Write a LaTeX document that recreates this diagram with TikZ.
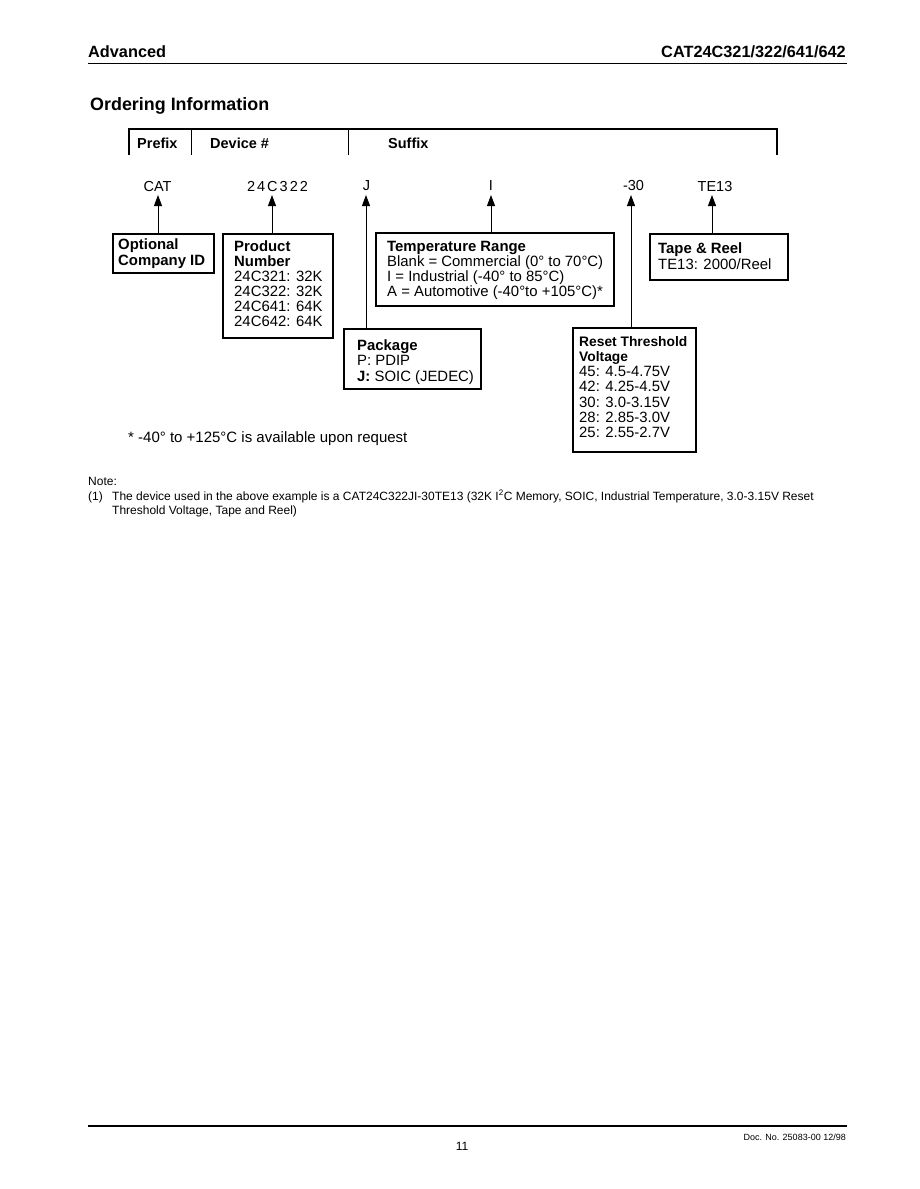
\documentclass[tikz,border=0pt]{standalone}
\usepackage{fontspec}
\setmainfont{Liberation Sans}
\usetikzlibrary{arrows.meta}
\newcommand\fsz[2]{\fontsize{#1}{#2}\selectfont}
\newcommand\boxlines[1]{\begin{tabular}[t]{@{}l@{}}#1\end{tabular}}
\begin{document}
\begin{tikzpicture}[x=1pt,y=-1pt,
  boxframe/.style={draw,line width=1.6pt,rectangle,anchor=north west,inner sep=0pt},
  boxtext/.style={anchor=base west,inner sep=0pt,font=\fsz{14.9}{15}},
  codelbl/.style={anchor=base,inner sep=0pt,font=\fsz{14.5}{15}},
  headlbl/.style={anchor=base west,inner sep=0pt,font=\fsz{14.5}{15}\bfseries},
  uparrow/.style={line width=0.9pt,-{Triangle[length=11pt,width=8pt]}},
  small/.style={anchor=base west,inner sep=0pt,font=\fsz{12}{14}}
]
\useasboundingbox (0,0) rectangle (919,1189);
\fill[white] (0,0) rectangle (919,1189);

% page header
\node[anchor=base west,inner sep=0pt,font=\fsz{16.3}{18}\bfseries] (adv) at (88,57) {Advanced};
\node[anchor=base east,inner sep=0pt,font=\fsz{16.3}{18}\bfseries] (part) at (846,57) {CAT24C321/322/641/642};
\draw[line width=1pt] (88,63.5) -- (847,63.5);

\node[anchor=base west,inner sep=0pt,font=\fsz{17.9}{20}\bfseries] (title) at (90,110.5) {Ordering Information};

% header frame
\draw[line width=1.6pt] (129,155) -- (129,129) -- (777,129) -- (777,155);
\draw[line width=1pt] (191,129) -- (191,155);
\draw[line width=1pt] (348,129) -- (348,155);
\node[headlbl] (hpre) at (137,148) {Prefix};
\node[headlbl] (hdev) at (210,148) {Device \#};
\node[headlbl] (hsuf) at (388,148) {Suffix};

% code labels
\node[codelbl] (lcat) at (157.5,191) {CAT};
\node[codelbl] (ldev) at (277.5,191) {2\kern2pt4\kern2pt C\kern2pt3\kern2pt2\kern2pt2};
\node[codelbl] (lj) at (366.5,190.5) {J};
\node[codelbl] (li) at (491,190.5) {I};
\node[codelbl] (lv) at (633.5,190.5) {-30};
\node[codelbl] (lt) at (715,191.5) {TE13};

\coordinate (acat) at (158,195);
\coordinate (adev) at (272,195);
\coordinate (aj) at (366,195);
\coordinate (ai) at (491,195);
\coordinate (av) at (631,195);
\coordinate (at13) at (712,195);

% boxes
\node[boxframe,minimum width=101pt,minimum height=39pt] (optbox) at (112,233) {};
\node[boxtext,font=\fsz{14.9}{16}\bfseries] (opttxt) at (118,249) {\boxlines{Optional\\Company ID}};

\node[boxframe,minimum width=110pt,minimum height=104pt] (prodbox) at (222,233) {};
\node[boxtext] (prodtxt) at (234,251) {\boxlines{\textbf{Product}\\\textbf{Number}\\24C321: 32K\\24C322: 32K\\24C641: 64K\\24C642: 64K}};

\node[boxframe,minimum width=238pt,minimum height=73pt] (tempbox) at (375,232) {};
\node[boxtext] (temptxt) at (387,251) {\boxlines{\textbf{Temperature Range}\\Blank = Commercial (0° to 70°C)\\I = Industrial (-40° to 85°C)\\A = Automotive (-40°to +105°C)*}};

\node[boxframe,minimum width=138pt,minimum height=46pt] (tapebox) at (649,233) {};
\node[boxtext,font=\fsz{14.9}{16}] (tapetxt) at (658,253) {\boxlines{\textbf{Tape \& Reel}\\TE13: 2000/Reel}};

\node[boxframe,minimum width=137pt,minimum height=60pt] (pkgbox) at (343,328) {};
\node[boxtext,font=\fsz{14.9}{15.5}] (pkgtxt) at (357,350) {\boxlines{\textbf{Package}\\P: PDIP\\\textbf{J:} SOIC (JEDEC)}};

\node[boxframe,minimum width=123pt,minimum height=124pt] (rstbox) at (572,327) {};
\node[boxtext,font=\fsz{14.9}{15.3}] (rsttxt) at (579,346) {\boxlines{{\bfseries\fsz{13.8}{15.3}Reset Threshold}\\{\bfseries\fsz{13.8}{15.3}Voltage}\\45: 4.5-4.75V\\42: 4.25-4.5V\\30: 3.0-3.15V\\28: 2.85-3.0V\\25: 2.55-2.7V}};

% arrows
\draw[uparrow] (acat |- optbox.north) -- (acat);
\draw[uparrow] (adev |- prodbox.north) -- (adev);
\draw[uparrow] (aj |- pkgbox.north) -- (aj);
\draw[uparrow] (ai |- tempbox.north) -- (ai);
\draw[uparrow] (av |- rstbox.north) -- (av);
\draw[uparrow] (at13 |- tapebox.north) -- (at13);

% footnote
\node[anchor=base west,inner sep=0pt,font=\fsz{15}{16}] (fn) at (128,442) {* -40° to +125°C is available upon request};

% note
\node[small] (note) at (88,485) {Note:};
\node[small] (note1) at (88,500) {\makebox[24pt][l]{(1)}The device used in the above example is a CAT24C322JI-30TE13 (32K I\textsuperscript{2}C Memory, SOIC, Industrial Temperature, 3.0-3.15V Reset};
\node[small] (note2) at (112,514) {Threshold Voltage, Tape and Reel)};

% footer
\draw[line width=1.6pt] (88,1126) -- (847,1126);
\node[anchor=base east,inner sep=0pt,font=\fsz{9}{10}] (doc) at (846,1140) {Doc. No. 25083-00 12/98};
\node[anchor=base,inner sep=0pt,font=\fsz{12}{13}] (pg) at (462,1150) {11};
\end{tikzpicture}
\end{document}
